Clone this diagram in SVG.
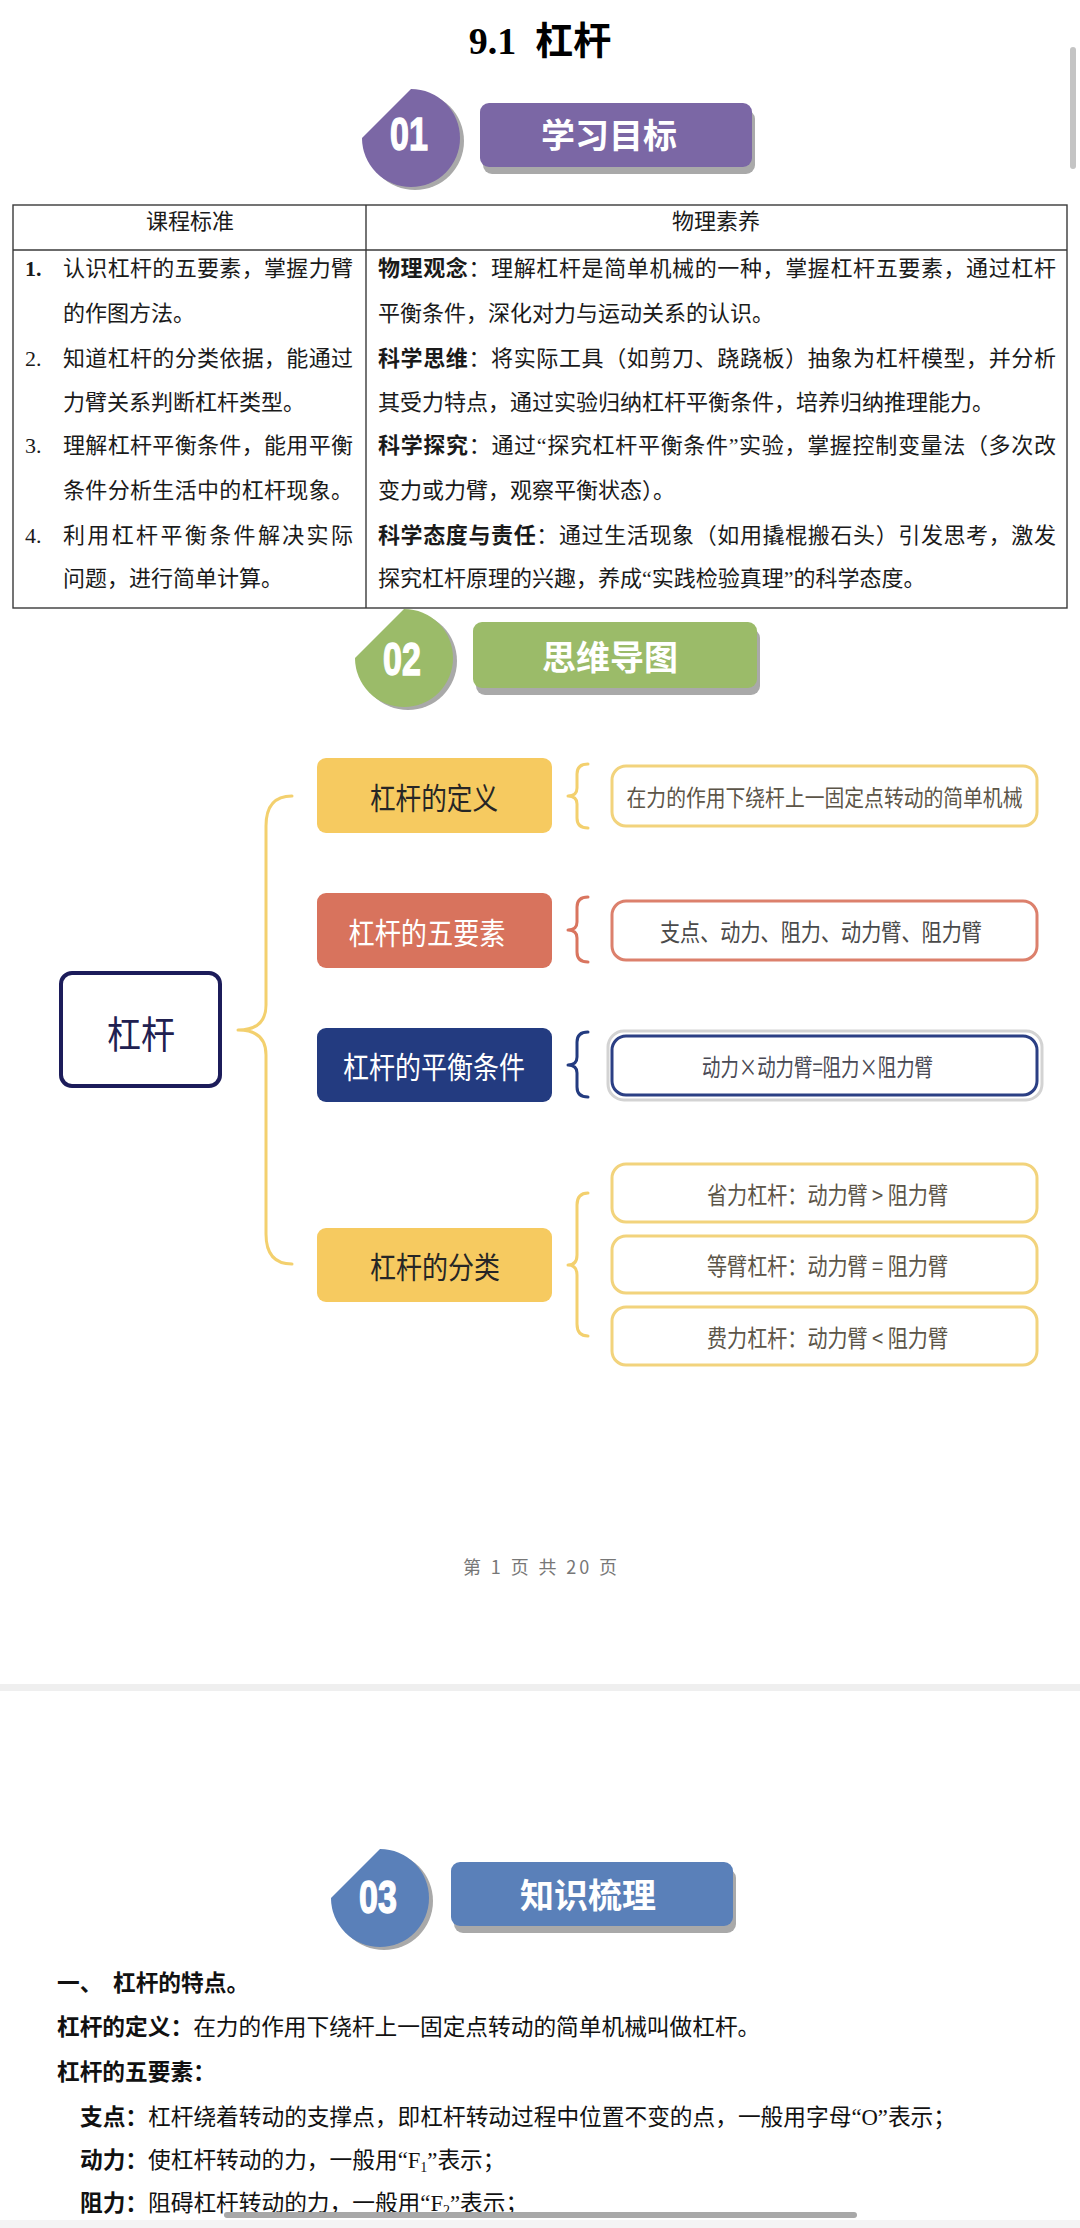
<svg xmlns="http://www.w3.org/2000/svg" width="1080" height="2228" viewBox="0 0 1080 2228">
<style>
.cjk{font-family:"Noto Sans CJK SC","Noto Sans",sans-serif}
.serif{font-family:"Liberation Serif","Noto Sans CJK SC",serif}
.txt{font-family:"Noto Sans CJK SC","Noto Sans",sans-serif;font-size:22px;fill:#1a1a1a}
.body{font-family:"Noto Sans CJK SC","Noto Sans",sans-serif;font-size:22.7px;fill:#111}
.b{font-weight:700}
.num{font-family:"Liberation Serif",serif;font-size:22px;fill:#1a1a1a}
.badge-num{font-family:"Liberation Sans",sans-serif;font-weight:700;font-size:46px;fill:#fff;stroke:#fff;stroke-width:1.4;text-anchor:middle}
.sec-title{font-family:"Noto Sans CJK SC",sans-serif;font-weight:700;font-size:34px;fill:#fff;text-anchor:middle;dominant-baseline:central}
.grid{stroke:#3a3a3a;stroke-width:1.4;fill:none}
.mm{font-family:"Noto Sans CJK SC",sans-serif;font-size:30px;dominant-baseline:central;text-anchor:middle}
.leaf{font-family:"Noto Sans CJK SC",sans-serif;font-size:24px;dominant-baseline:central;text-anchor:middle}
.brace{fill:none;stroke-width:3;stroke-linecap:round;stroke-linejoin:round}
.shadow{fill:#a9a9a9}
.box{fill:#fff;stroke-width:3}
</style>
<defs>
<path id="tear" d="M0,-49 A49,49 0 1,1 -49,0 Z"/>
</defs>
<rect width="1080" height="2228" fill="#fff"/>

<!-- title -->
<g id="title">
<text x="540" y="54" text-anchor="middle" font-size="38" font-weight="700" fill="#000"><tspan font-family="Liberation Serif">9.1&#160;&#160;</tspan><tspan font-family="Noto Sans CJK SC">杠杆</tspan></text>
</g>
<rect x="1070" y="47" width="6" height="122" rx="3" fill="#c4c4c4"/>

<!-- section 01 -->
<g id="sec01">
<use href="#tear" transform="translate(415,141)" class="shadow"/>
<use href="#tear" transform="translate(411,138)" fill="#7b67a5"/>
<text class="badge-num" transform="translate(409,149.5) scale(0.74,1)">01</text>
<rect x="483" y="110" width="272" height="64" rx="9" class="shadow"/>
<rect x="480" y="103" width="272" height="64" rx="9" fill="#7b67a5"/>
<text class="sec-title" x="609" y="133">学习目标</text>
</g>

<!-- table -->
<g id="table">
<rect x="13" y="205" width="1054" height="403" class="grid"/>
<line x1="13" y1="250" x2="1067" y2="250" class="grid"/>
<line x1="366" y1="205" x2="366" y2="608" class="grid"/>
<text class="txt" x="190" y="229" text-anchor="middle">课程标准</text>
<text class="txt" x="716" y="229" text-anchor="middle">物理素养</text>

<text class="num b" x="25" y="276">1.</text>
<text class="txt" x="63" y="276" textLength="290">认识杠杆的五要素，掌握力臂</text>
<text class="txt" x="63" y="321">的作图方法。</text>
<text class="num" x="25" y="366">2.</text>
<text class="txt" x="63" y="366" textLength="290">知道杠杆的分类依据，能通过</text>
<text class="txt" x="63" y="410">力臂关系判断杠杆类型。</text>
<text class="num" x="25" y="453">3.</text>
<text class="txt" x="63" y="453" textLength="290">理解杠杆平衡条件，能用平衡</text>
<text class="txt" x="63" y="498" textLength="290">条件分析生活中的杠杆现象。</text>
<text class="num" x="25" y="543">4.</text>
<text class="txt" x="63" y="543" textLength="290">利用杠杆平衡条件解决实际</text>
<text class="txt" x="63" y="586">问题，进行简单计算。</text>

<text class="txt" x="378" y="276" textLength="678"><tspan class="b">物理观念</tspan>：理解杠杆是简单机械的一种，掌握杠杆五要素，通过杠杆</text>
<text class="txt" x="378" y="321">平衡条件，深化对力与运动关系的认识。</text>
<text class="txt" x="378" y="366" textLength="678"><tspan class="b">科学思维</tspan>：将实际工具（如剪刀、跷跷板）抽象为杠杆模型，并分析</text>
<text class="txt" x="378" y="410">其受力特点，通过实验归纳杠杆平衡条件，培养归纳推理能力。</text>
<text class="txt" x="378" y="453" textLength="678"><tspan class="b">科学探究</tspan>：通过<tspan font-family="Liberation Serif">“</tspan>探究杠杆平衡条件<tspan font-family="Liberation Serif">”</tspan>实验，掌握控制变量法（多次改</text>
<text class="txt" x="378" y="498">变力或力臂，观察平衡状态）。</text>
<text class="txt" x="378" y="543" textLength="678"><tspan class="b">科学态度与责任</tspan>：通过生活现象（如用撬棍搬石头）引发思考，激发</text>
<text class="txt" x="378" y="586">探究杠杆原理的兴趣，养成<tspan font-family="Liberation Serif">“</tspan>实践检验真理<tspan font-family="Liberation Serif">”</tspan>的科学态度。</text>
</g>

<!-- section 02 -->
<g id="sec02">
<use href="#tear" transform="translate(408,661)" class="shadow"/>
<use href="#tear" transform="translate(404,658)" fill="#9bbb69"/>
<text class="badge-num" transform="translate(402,674.5) scale(0.74,1)">02</text>
<rect x="476" y="629" width="284" height="66" rx="9" class="shadow"/>
<rect x="473" y="622" width="284" height="66" rx="9" fill="#9bbb69"/>
<text class="sec-title" x="610" y="655">思维导图</text>
</g>

<!-- mind map connectors -->
<g id="connectors">
<path class="brace" stroke="#f3d06e" stroke-width="3.5" d="M292,796 Q266,796 266,826 L266,1005 Q266,1030 238,1030 Q266,1030 266,1055 L266,1234 Q266,1264 292,1264"/>
<path class="brace" stroke="#f3d06e" d="M588,764 Q577,764 577,774 L577,788 Q577,796 568,796 Q577,796 577,804 L577,818 Q577,828 588,828"/>
<path class="brace" stroke="#d9755f" d="M588,897 Q577,897 577,907 L577,922 Q577,930 568,930 Q577,930 577,938 L577,952 Q577,962 588,962"/>
<path class="brace" stroke="#233b80" d="M588,1032 Q577,1032 577,1042 L577,1057 Q577,1065 568,1065 Q577,1065 577,1073 L577,1087 Q577,1097 588,1097"/>
<path class="brace" stroke="#f3d06e" d="M588,1193 Q577,1193 577,1205 L577,1255 Q577,1265 568,1265 Q577,1265 577,1275 L577,1324 Q577,1336 588,1336"/>
</g>

<!-- mind map nodes -->
<g id="node-root">
<rect x="61" y="973" width="159" height="113" rx="11" fill="#fff" stroke="#1c1c5a" stroke-width="4"/>
<text class="mm" x="141" y="1031" style="font-size:38px" fill="#202050" textLength="68" lengthAdjust="spacingAndGlyphs">杠杆</text>
</g>
<g id="node-def">
<rect x="317" y="758" width="235" height="75" rx="9" fill="#f6ca60"/>
<text class="mm" x="434" y="795.5" fill="#262626" textLength="128" lengthAdjust="spacingAndGlyphs">杠杆的定义</text>
</g>
<g id="node-five">
<rect x="317" y="893" width="235" height="75" rx="9" fill="#d8735d"/>
<text class="mm" x="427" y="930.5" fill="#fff" textLength="157" lengthAdjust="spacingAndGlyphs">杠杆的五要素</text>
</g>
<g id="node-balance">
<rect x="317" y="1028" width="235" height="74" rx="9" fill="#233b80"/>
<text class="mm" x="434" y="1065" fill="#fff" textLength="182" lengthAdjust="spacingAndGlyphs">杠杆的平衡条件</text>
</g>
<g id="node-class">
<rect x="317" y="1228" width="235" height="74" rx="9" fill="#f6ca60"/>
<text class="mm" x="435" y="1265" fill="#262626" textLength="130" lengthAdjust="spacingAndGlyphs">杠杆的分类</text>
</g>

<g id="leaf-def">
<rect x="612" y="766" width="425" height="60" rx="14" class="box" stroke="#f2d37c"/>
<text class="leaf" transform="translate(824.5,796) scale(1,1.15)" x="0" y="0" style="font-size:19.8px" fill="#5c5548">在力的作用下绕杆上一固定点转动的简单机械</text>
</g>
<g id="leaf-five">
<rect x="612" y="901" width="425" height="59" rx="14" class="box" stroke="#dc806c"/>
<text class="leaf" x="821" y="930.5" fill="#4a4a4a" textLength="322" lengthAdjust="spacingAndGlyphs">支点、动力、阻力、动力臂、阻力臂</text>
</g>
<g id="leaf-balance">
<rect x="608" y="1031" width="434" height="69" rx="16" fill="none" stroke="#d3d3d3" stroke-width="3"/>
<rect x="612" y="1036" width="425" height="59" rx="14" class="box" stroke="#2b3f84"/>
<text class="leaf" x="817.5" y="1065.5" fill="#4a4a55" textLength="231" lengthAdjust="spacingAndGlyphs">动力×动力臂=阻力×阻力臂</text>
</g>
<g id="leaf-save">
<rect x="612" y="1164" width="425" height="58" rx="14" class="box" stroke="#f2d37c"/>
<text class="leaf" x="827.5" y="1193" fill="#5c5548" textLength="241" lengthAdjust="spacingAndGlyphs">省力杠杆：动力臂 &gt; 阻力臂</text>
</g>
<g id="leaf-equal">
<rect x="612" y="1236" width="425" height="57" rx="14" class="box" stroke="#f2d37c"/>
<text class="leaf" x="827.5" y="1264.5" fill="#5c5548" textLength="241" lengthAdjust="spacingAndGlyphs">等臂杠杆：动力臂 = 阻力臂</text>
</g>
<g id="leaf-cost">
<rect x="612" y="1307" width="425" height="58" rx="14" class="box" stroke="#f2d37c"/>
<text class="leaf" x="827.5" y="1336" fill="#5c5548" textLength="241" lengthAdjust="spacingAndGlyphs">费力杠杆：动力臂 &lt; 阻力臂</text>
</g>

<!-- footer -->
<text x="540" y="1566" class="cjk" font-size="18" fill="#777" text-anchor="middle" dominant-baseline="central" textLength="154">第 1 页 共 20 页</text>
<rect x="0" y="1684" width="1080" height="7" fill="#efefef"/>

<!-- section 03 -->
<g id="sec03">
<use href="#tear" transform="translate(384,1901)" class="shadow"/>
<use href="#tear" transform="translate(380,1898)" fill="#5a80b9"/>
<text class="badge-num" transform="translate(378,1912.5) scale(0.74,1)">03</text>
<rect x="454" y="1869" width="282" height="64" rx="9" class="shadow"/>
<rect x="451" y="1862" width="282" height="64" rx="9" fill="#5a80b9"/>
<text class="sec-title" x="588" y="1893">知识梳理</text>
</g>

<g id="notes">
<text class="body b" x="57" y="1991">一、<tspan x="113">杠杆的特点。</tspan></text>
<text class="body" x="57" y="2035"><tspan class="b">杠杆的定义：</tspan>在力的作用下绕杆上一固定点转动的简单机械叫做杠杆。</text>
<text class="body b" x="57" y="2080">杠杆的五要素：</text>
<text class="body" x="80" y="2125"><tspan class="b">支点：</tspan>杠杆绕着转动的支撑点，即杠杆转动过程中位置不变的点，一般用字母<tspan font-family="Liberation Serif">“O”</tspan>表示；</text>
<text class="body" x="80" y="2168"><tspan class="b">动力：</tspan>使杠杆转动的力，一般用<tspan font-family="Liberation Serif">“F<tspan font-size="14" dy="4">1</tspan><tspan dy="-4">”</tspan></tspan>表示；</text>
<text class="body" x="80" y="2211"><tspan class="b">阻力：</tspan>阻碍杠杆转动的力，一般用<tspan font-family="Liberation Serif">“F<tspan font-size="14" dy="4">2</tspan><tspan dy="-4">”</tspan></tspan>表示；</text>
</g>
<rect x="0" y="2220" width="1080" height="8" fill="#f4f4f4"/>
<rect x="224" y="2212" width="633" height="6" rx="3" fill="#a8a8a8"/>
</svg>
